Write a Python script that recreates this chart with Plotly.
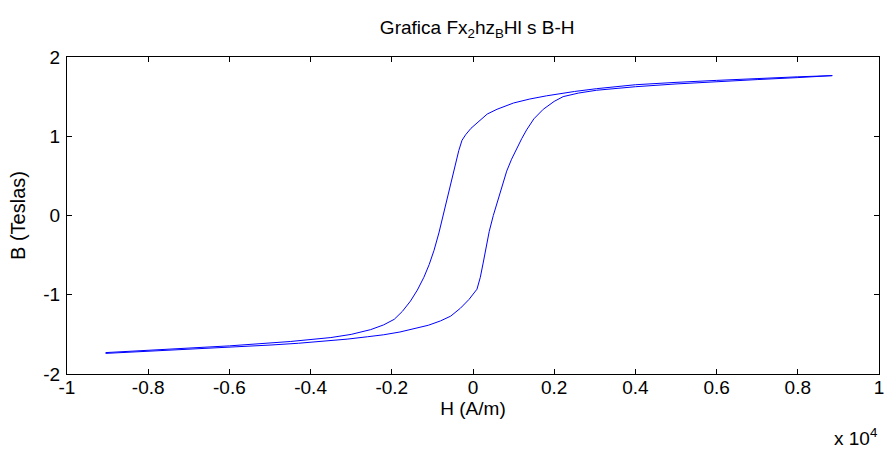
import plotly.graph_objects as go

# H in units of 10^4 A/m, B in Teslas
# ascending branch (lower / right side of the loop)
h_up = [-0.905, -0.80, -0.70, -0.60, -0.50, -0.43, -0.36, -0.31, -0.26, -0.22, -0.18,
        -0.145, -0.11, -0.08, -0.055, -0.031, -0.01, 0.0098, 0.018, 0.025, 0.032, 0.040,
        0.050, 0.060, 0.072, 0.083, 0.095, 0.108, 0.120, 0.132, 0.150, 0.173, 0.20,
        0.222, 0.26, 0.304, 0.40, 0.50, 0.60, 0.70, 0.80, 0.885]
b_up = [-1.74, -1.715, -1.685, -1.66, -1.635, -1.612, -1.585, -1.56, -1.53, -1.505, -1.47,
        -1.43, -1.385, -1.33, -1.27, -1.17, -1.06, -0.93, -0.78, -0.60, -0.42, -0.20,
        0.00, 0.17, 0.37, 0.56, 0.71, 0.85, 0.97, 1.08, 1.22, 1.34, 1.44,
        1.50, 1.545, 1.58, 1.625, 1.66, 1.69, 1.715, 1.74, 1.765]

# descending branch (upper / left side of the loop)
h_down = [0.885, 0.80, 0.70, 0.60, 0.50, 0.40, 0.304, 0.25, 0.181, 0.14, 0.10, 0.059,
          0.035, 0.014, -0.005, -0.018, -0.027, -0.035, -0.047, -0.058, -0.072, -0.084,
          -0.096, -0.108, -0.121, -0.137, -0.154, -0.174, -0.194, -0.22, -0.252, -0.30,
          -0.35, -0.45, -0.60, -0.75, -0.905]
b_down = [1.765, 1.75, 1.73, 1.705, 1.68, 1.65, 1.60, 1.565, 1.51, 1.47, 1.42, 1.34,
          1.28, 1.19, 1.10, 1.02, 0.95, 0.82, 0.57, 0.32, 0.02, -0.22,
          -0.44, -0.62, -0.78, -0.94, -1.08, -1.21, -1.31, -1.38, -1.44, -1.50,
          -1.54, -1.59, -1.645, -1.69, -1.73]

x_ticks = [-1, -0.8, -0.6, -0.4, -0.2, 0, 0.2, 0.4, 0.6, 0.8, 1]
x_tick_text = ["-1", "-0.8", "-0.6", "-0.4", "-0.2", "0", "0.2", "0.4", "0.6", "0.8", "1"]
y_ticks = [-2, -1, 0, 1, 2]
y_tick_text = ["-2", "-1", "0", "1", "2"]

fig = go.Figure()
fig.add_trace(go.Scatter(x=h_up + h_down, y=b_up + b_down, mode="lines",
                         line=dict(color="#0000FF", width=1), showlegend=False))

FAM = "Liberation Sans, Arial, sans-serif"
font = dict(family=FAM, size=19, color="black")
axis_common = dict(showline=True, linecolor="black", linewidth=1, mirror="ticks",
                   ticks="inside", ticklen=5, tickcolor="black", tickwidth=1,
                   showgrid=False, zeroline=False, tickfont=font)

fig.update_layout(
    width=892, height=451,
    margin=dict(l=67, r=8, t=57, b=77),
    paper_bgcolor="white", plot_bgcolor="white",
    font=font,
    title=dict(text="Grafica Fx<sub>2</sub>hz<sub>B</sub>Hl s B-H", x=0.535, xanchor="center",
               y=0.94, yanchor="middle", font=dict(family=FAM, size=19, color="black")),
    xaxis=dict(range=[-1, 1], tickvals=x_ticks, ticktext=x_tick_text, ticklabelstandoff=-4,
               title=dict(text="H (A/m)", standoff=0, font=font), **axis_common),
    yaxis=dict(range=[-2, 2], tickvals=y_ticks, ticktext=y_tick_text, ticklabelstandoff=2,
               title=dict(text="B (Teslas)", standoff=12, font=dict(family=FAM, size=20, color="black")),
               **axis_common),
)
fig.add_annotation(text="x 10<sup>4</sup>", xref="paper", yref="paper", x=1.0, y=-0.2,
                   xanchor="right", yanchor="middle", showarrow=False, font=font)

fig.write_html("out.html")
